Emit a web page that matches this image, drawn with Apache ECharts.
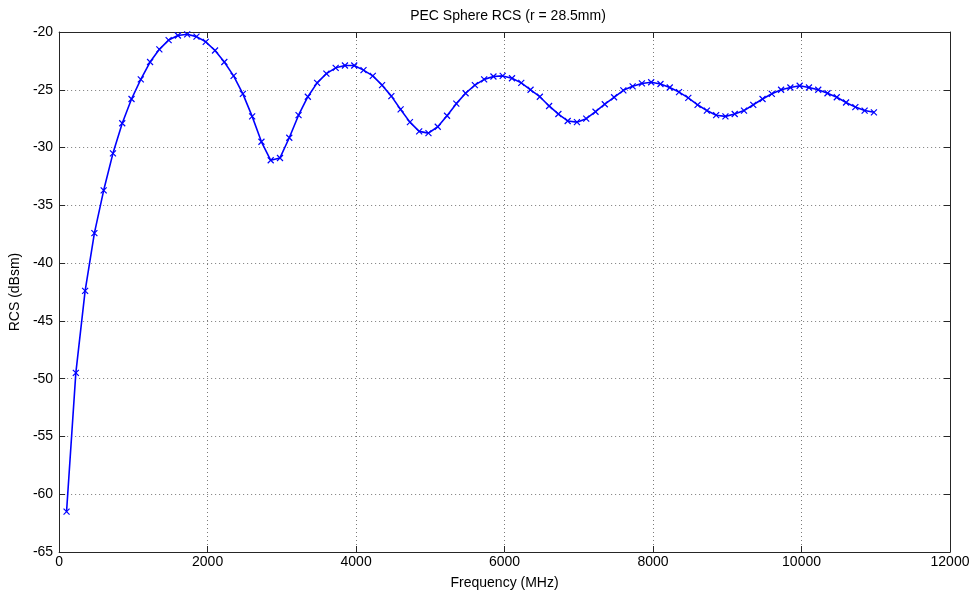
<!DOCTYPE html>
<html>
<head>
<meta charset="utf-8">
<script src="https://cdn.jsdelivr.net/npm/echarts@6/dist/echarts.min.js"></script>
<style>
html,body{margin:0;padding:0;background:#fff;}
#chart{width:979px;height:596px;}
</style>
</head>
<body>
<div id="chart"></div>
<script>
var frequencies = [100,225,350,475,600,725,850,975,1100,1225,1350,1475,1600,1725,1850,1975,2100,2225,2350,2475,2600,2725,2850,2975,3100,3225,3350,3475,3600,3725,3850,3975,4100,4225,4350,4475,4600,4725,4850,4975,5100,5225,5350,5475,5600,5725,5850,5975,6100,6225,6350,6475,6600,6725,6850,6975,7100,7225,7350,7475,7600,7725,7850,7975,8100,8225,8350,8475,8600,8725,8850,8975,9100,9225,9350,9475,9600,9725,9850,9975,10100,10225,10350,10475,10600,10725,10850,10975];
var rcs = [-61.5,-49.5,-42.4,-37.4,-33.7,-30.5,-27.9,-25.8,-24.1,-22.6,-21.5,-20.7,-20.3,-20.2,-20.4,-20.85,-21.6,-22.6,-23.8,-25.35,-27.3,-29.5,-31.1,-30.9,-29.15,-27.2,-25.6,-24.4,-23.6,-23.1,-22.9,-22.9,-23.3,-23.8,-24.6,-25.55,-26.7,-27.8,-28.6,-28.75,-28.2,-27.25,-26.2,-25.3,-24.6,-24.1,-23.85,-23.8,-24.0,-24.4,-25.0,-25.6,-26.4,-27.1,-27.7,-27.8,-27.5,-26.9,-26.25,-25.65,-25.05,-24.7,-24.45,-24.35,-24.5,-24.8,-25.2,-25.7,-26.3,-26.8,-27.2,-27.3,-27.1,-26.8,-26.3,-25.8,-25.35,-25.0,-24.8,-24.65,-24.8,-25.0,-25.3,-25.65,-26.1,-26.5,-26.8,-26.95];
var xTickInterval = 2000, xMin = 0, xMax = 12000;
var yTickInterval = 5, yMin = -65, yMax = -20;
var titleText = 'PEC Sphere RCS (r = 28.5mm)';
var xLabel = 'Frequency (MHz)';
var yLabel = 'RCS (dBsm)';

var data = frequencies.map(function(f, i){ return [f, rcs[i]]; });
var font = 'Liberation Sans, Arial, Helvetica, sans-serif';
var axisLineStyle = {color:'#262626', width:1};
var gridLine = {show:true, lineStyle:{color:'#7a7a7a', width:1, type:[1,3]}};

var chart = echarts.init(document.getElementById('chart'), null, {renderer:'canvas'});
chart.setOption({
  animation:false,
  backgroundColor:'#fff',
  title:{text:titleText, left:503, top:4, textAlign:'center',
    textStyle:{fontFamily:font, fontSize:14, fontWeight:'normal', color:'#000'}},
  grid:{left:57, right:29, top:32, bottom:44, containLabel:false},
  xAxis:[{
    type:'value', min:xMin, max:xMax, interval:xTickInterval, position:'bottom',
    axisLine:{show:true, onZero:false, lineStyle:axisLineStyle},
    axisTick:{show:true, inside:true, length:6, lineStyle:axisLineStyle},
    axisLabel:{color:'#000', fontFamily:font, fontSize:14, margin:3, formatter:function(v){return String(v);}},
    splitLine:gridLine,
    name:xLabel, nameLocation:'middle', nameGap:24,
    nameTextStyle:{color:'#000', fontFamily:font, fontSize:14}
  },{
    type:'value', min:xMin, max:xMax, interval:xTickInterval, position:'top',
    axisLine:{show:true, onZero:false, lineStyle:axisLineStyle},
    axisTick:{show:true, inside:true, length:6, lineStyle:axisLineStyle},
    axisLabel:{show:false}, splitLine:{show:false}
  }],
  yAxis:[{
    type:'value', min:yMin, max:yMax, interval:yTickInterval, position:'left',
    axisLine:{show:true, onZero:false, lineStyle:axisLineStyle},
    axisTick:{show:true, inside:true, length:6, lineStyle:axisLineStyle},
    axisLabel:{color:'#000', fontFamily:font, fontSize:14, margin:6},
    splitLine:gridLine,
    name:yLabel, nameLocation:'middle', nameGap:34,
    nameTextStyle:{color:'#000', fontFamily:font, fontSize:14}
  },{
    type:'value', min:yMin, max:yMax, interval:yTickInterval, position:'right',
    axisLine:{show:true, onZero:false, lineStyle:axisLineStyle},
    axisTick:{show:true, inside:true, length:6, lineStyle:axisLineStyle},
    axisLabel:{show:false}, splitLine:{show:false}
  }],
  series:[{
    type:'line', xAxisIndex:0, yAxisIndex:0, data:data,
    smooth:false, showAllSymbol:true,
    symbol:'path://M0,0L10,10M0,10L10,0', symbolSize:6,
    lineStyle:{color:'#0000ff', width:1.6},
    itemStyle:{color:'#0000ff', borderColor:'#0000ff', borderWidth:1.2},
    emphasis:{disabled:true}
  }]
});
</script>
</body>
</html>
